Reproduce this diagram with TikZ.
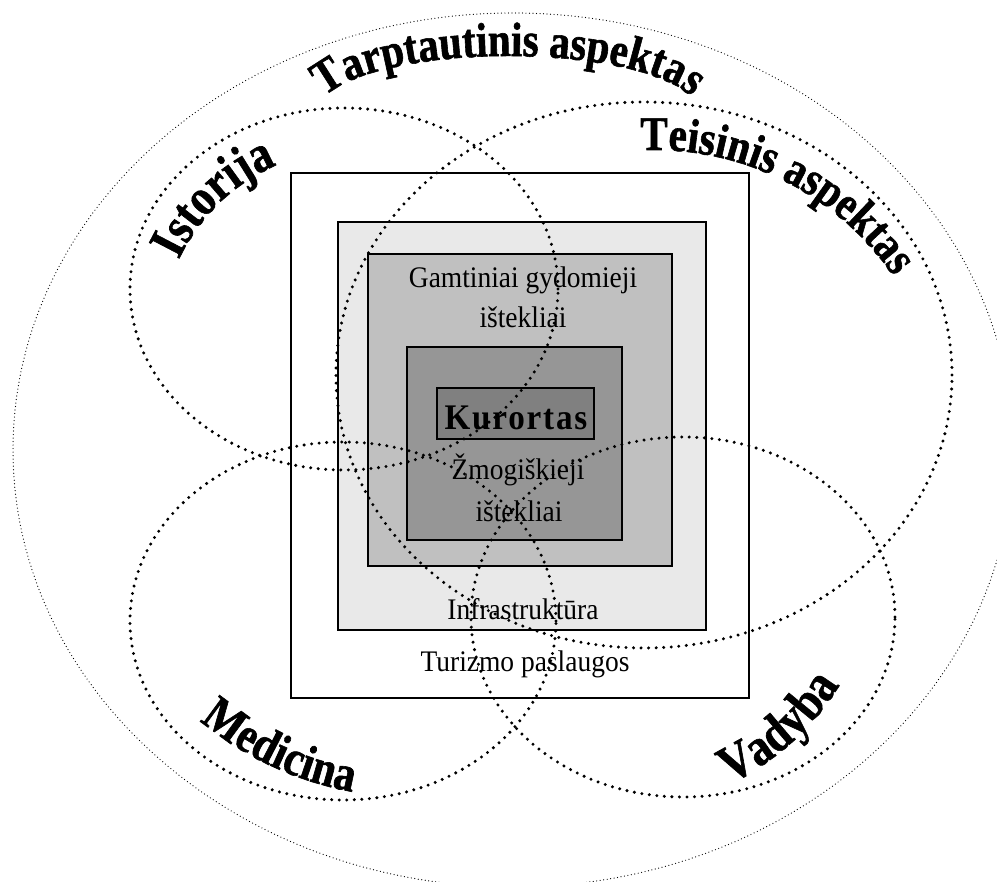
\documentclass[tikz,border=0pt]{standalone}
\usepackage{fontspec}
\setmainfont{Liberation Serif}[FakeStretch=0.92]
\newfontfamily\wordart{Liberation Serif}[FakeStretch=0.85, FakeBold=1.2]
\usetikzlibrary{decorations.text}
\definecolor{infra}{gray}{0.915}
\definecolor{natural}{gray}{0.753}
\definecolor{human}{gray}{0.59}
\definecolor{resort}{gray}{0.5}
\newcommand\arcfont[1]{\wordart\bfseries\fontsize{#1}{#1}\selectfont}

\begin{document}
\begin{tikzpicture}[x=0.02cm, y=0.02cm,
  ring/.style={line width=1.9pt, line cap=round, dash pattern=on 0pt off 4.3pt},
  bigring/.style={line width=0.7pt, line cap=round, dash pattern=on 0pt off 2pt},
  layer/.style={draw=black, line width=1.1pt},
  boxtext/.style={inner sep=0pt, anchor=base, font=\fontsize{17}{20}\selectfont},
  arclabel/.style={decorate, decoration={text along path, text align=center}}]
\useasboundingbox (0,0) rectangle (997,882);
\clip (0,0) rectangle (997,882);
\filldraw[layer, fill=white] (291,184) rectangle (749,709);
\filldraw[layer, fill=infra] (338,252) rectangle (706,660);
\filldraw[layer, fill=natural] (368,316) rectangle (672,628);
\filldraw[layer, fill=human] (407,342) rectangle (622,535);
\filldraw[layer, fill=resort] (437,443) rectangle (594,494);
\node[boxtext] (gamt1) at (523,594) {Gamtiniai gydomieji};
\node[boxtext] (gamt2) at (523,554) {ištekliai};
\node[boxtext, font=\bfseries\fontsize{20.5}{24}\selectfont\addfontfeatures{LetterSpace=5}] (kurortas) at (516,452) {Kurortas};
\node[boxtext] (zmog1) at (518,402) {Žmogiškieji};
\node[boxtext] (zmog2) at (519,360) {ištekliai};
\node[boxtext] (infra) at (523,262) {Infrastruktūra};
\node[boxtext] (turizm) at (525,210) {Turizmo paslaugos};
\draw[bigring] (513,432) ellipse (500 and 437);
\draw[ring] (344,593) ellipse (214 and 181);
\draw[ring] (644,507) ellipse (308 and 273);
\draw[ring] (343,261) ellipse (213 and 179);
\draw[ring] (683,265) ellipse (212 and 180);
\path[arclabel, decoration={text={|\arcfont{27.5}|Tarptautinis aspektas}}] ([shift={(508,770)}]180:190 and 56) arc[start angle=180, end angle=0, x radius=190, y radius=56];
\path[arclabel, decoration={text={|\arcfont{29.5}|Istorija}}] ([shift={(351,542)}]160:190) arc[start angle=160, end angle=108, radius=190];
\path[arclabel, decoration={text={|\arcfont{27.5}|Teisinis aspektas}}] ([shift={(654,442)}]99:290) arc[start angle=99, end angle=28, radius=290];
\path[arclabel, decoration={text={|\arcfont{28.5}|Medicina}}] ([shift={(411,415)}]225:330) arc[start angle=225, end angle=265, radius=330];
\path[arclabel, decoration={text={|\arcfont{30}|Vadyba}}] ([shift={(618,333)}]293:260) arc[start angle=293, end angle=331, radius=260];
\end{tikzpicture}
\end{document}
